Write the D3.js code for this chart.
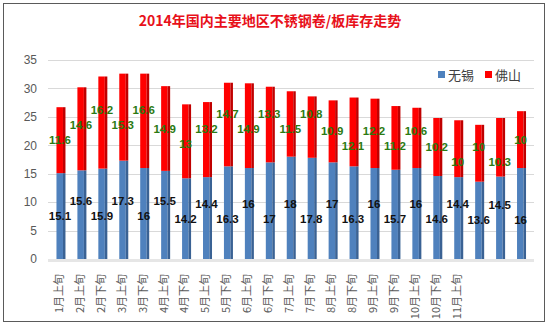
<!DOCTYPE html>
<html>
<head>
<meta charset="utf-8">
<script src="https://cdn.jsdelivr.net/npm/d3@7"></script>
<style>
    body { margin: 0; background: #ffffff; }
    svg { display: block; }
</style>
</head>
<body>
<div id="chart"></div>
<script>
var d3 = globalThis.d3;

// the last three columns have no visible label in the original
const categories = ["1月上旬", "2月上旬", "2月下旬", "3月上旬", "3月下旬", "4月上旬", "4月下旬",
    "5月上旬", "5月下旬", "6月上旬", "6月下旬", "7月上旬", "7月下旬", "8月上旬", "8月下旬",
    "9月上旬", "9月下旬", "10月上旬", "10月下旬", "11月上旬", "", "", ""];
const wuxi = [15.1, 15.6, 15.9, 17.3, 16, 15.5, 14.2, 14.4, 16.3, 16, 17, 18, 17.8, 17, 16.3,
    16, 15.7, 16, 14.6, 14.4, 13.6, 14.5, 16];
const foshan = [11.6, 14.6, 16.2, 15.3, 16.6, 14.9, 13, 13.2, 14.7, 14.9, 13.3, 11.5, 10.8, 10.9,
    12.1, 12.2, 11.2, 10.6, 10.2, 10, 10, 10.3, 10];
const seriesNames = ["无锡", "佛山"];
const yTicks = [0, 5, 10, 15, 20, 25, 30, 35];

const width = 550, height = 329;
const margin = { left: 50, right: 18, top: 60, bottom: 70 };

const svg = d3.select("#chart").append("svg")
    .attr("width", width)
    .attr("height", height);

// chart frame
svg.append("rect")
    .attr("x", 3.5).attr("y", 3.5)
    .attr("width", 541).attr("height", 318)
    .attr("fill", "#ffffff")
    .attr("stroke", "#5a5a5a");

svg.append("text")
    .attr("x", 270)
    .attr("y", 26)
    .attr("text-anchor", "middle")
    .style("font-family", "'Noto Sans CJK SC', sans-serif")
    .style("font-weight", "bold")
    .style("font-size", "14px")
    .style("fill", "#e8101a")
    .text("2014年国内主要地区不锈钢卷/板库存走势");

const x = d3.scaleBand()
    .domain(d3.range(categories.length))
    .range([margin.left + 0.5, width - margin.right])
    .paddingInner(0.6)
    .paddingOuter(0.3);

const y = d3.scaleLinear()
    .domain([0, 35])
    .range([height - margin.bottom, margin.top]);

// gridlines
svg.append("g")
    .selectAll("line")
    .data(yTicks)
    .enter().append("line")
    .attr("x1", margin.left - 2)
    .attr("x2", width - margin.right + 2)
    .attr("y1", (d) => Math.round(y(d)) + 0.5)
    .attr("y2", (d) => Math.round(y(d)) + 0.5)
    .style("stroke", "#d9d9d9");

// floor
svg.append("rect")
    .attr("x", margin.left - 2)
    .attr("y", y(0))
    .attr("width", width - margin.left - margin.right + 4)
    .attr("height", 3)
    .style("fill", "#e6e6e6");

// y axis labels
const yAxis = svg.append("g")
    .attr("transform", "translate(" + (margin.left - 8) + ",0)")
    .call(d3.axisLeft(y).tickValues(yTicks).tickSize(0).tickPadding(5));
yAxis.select(".domain").remove();
yAxis.selectAll("text")
    .style("font-family", "'Liberation Sans', Arial, sans-serif")
    .style("font-size", "12px")
    .style("fill", "#595959");

// x axis labels, rotated
const xAxis = svg.append("g")
    .attr("transform", "translate(-2," + (y(0) + 13) + ")")
    .call(d3.axisBottom(x).tickSize(0).tickFormat((i) => categories[i]));
xAxis.select(".domain").remove();
xAxis.selectAll("text")
    .attr("transform", "rotate(-90)")
    .attr("x", -2)
    .attr("y", 0)
    .attr("dy", "0.35em")
    .style("text-anchor", "end")
    .style("font-family", "'Noto Sans CJK SC', sans-serif")
    .style("font-size", "11px")
    .style("fill", "#595959");

const stackData = categories.map((c, i) => ({ i: i, wuxi: wuxi[i], foshan: foshan[i] }));
const stacked = d3.stack().keys(["wuxi", "foshan"])(stackData);
const colors = { wuxi: ["#4f81bd", "#3a6294"], foshan: ["#ff0000", "#c00000"] };
const labelColors = { wuxi: "#111111", foshan: "#2b7a12" };
const frontW = 6.5, sideW = 2.5;

// label placement: start at segment middle, step away from the previous label when they collide
stacked.forEach((s) => {
    let prev = null;
    s.forEach((d) => {
        const mid = y((d[0] + d[1]) / 2);
        const top = y(d[1]) + 8, bottom = y(d[0]) - 8;
        let ly = mid;
        if (prev !== null && Math.abs(ly - prev) < 14) {
            const up = prev - 15, down = prev + 15;
            const cands = [up, down].filter((v) => v >= top && v <= bottom);
            if (cands.length) {
                ly = cands.sort((a, b) => Math.abs(a - mid) - Math.abs(b - mid))[0];
            }
        }
        d.labelY = ly;
        prev = ly;
    });
});

const layers = svg.append("g")
    .selectAll("g")
    .data(stacked)
    .enter().append("g");

layers.selectAll(".front")
    .data((s) => s.map((d) => Object.assign({ key: s.key }, d)))
    .enter().append("rect")
    .attr("class", "front")
    .attr("x", (d) => x(d.data.i) + x.bandwidth() / 2 - (frontW + sideW) / 2)
    .attr("y", (d) => y(d[1]))
    .attr("width", frontW)
    .attr("height", (d) => y(d[0]) - y(d[1]))
    .style("fill", (d) => colors[d.key][0]);

layers.selectAll(".side")
    .data((s) => s.map((d) => Object.assign({ key: s.key }, d)))
    .enter().append("rect")
    .attr("class", "side")
    .attr("x", (d) => x(d.data.i) + x.bandwidth() / 2 - (frontW + sideW) / 2 + frontW)
    .attr("y", (d) => y(d[1]))
    .attr("width", sideW)
    .attr("height", (d) => y(d[0]) - y(d[1]))
    .style("fill", (d) => colors[d.key][1]);

layers.selectAll(".lbl")
    .data((s) => s.map((d) => Object.assign({ key: s.key, labelY: d.labelY }, d)))
    .enter().append("text")
    .attr("class", "lbl")
    .attr("x", (d) => x(d.data.i) + x.bandwidth() / 2 - 1)
    .attr("y", (d) => d.labelY)
    .attr("dy", "0.35em")
    .attr("text-anchor", "middle")
    .style("font-family", "'Liberation Sans', Arial, sans-serif")
    .style("font-weight", "bold")
    .style("font-size", "11.5px")
    .style("fill", (d) => labelColors[d.key])
    .text((d) => d.data[d.key]);

// legend
const legend = svg.append("g")
    .selectAll("g")
    .data(seriesNames)
    .enter().append("g")
    .attr("transform", (d, i) => "translate(" + (438 + i * 47) + ",71)");
legend.append("rect")
    .attr("width", 7).attr("height", 7)
    .attr("y", 0)
    .style("fill", (d, i) => i === 0 ? colors.wuxi[0] : colors.foshan[0]);
legend.append("text")
    .attr("x", 10)
    .attr("y", 4)
    .attr("dy", "0.35em")
    .style("font-family", "'Noto Sans CJK SC', sans-serif")
    .style("font-size", "13px")
    .style("fill", "#404040")
    .text((d) => d);
</script>
</body>
</html>
